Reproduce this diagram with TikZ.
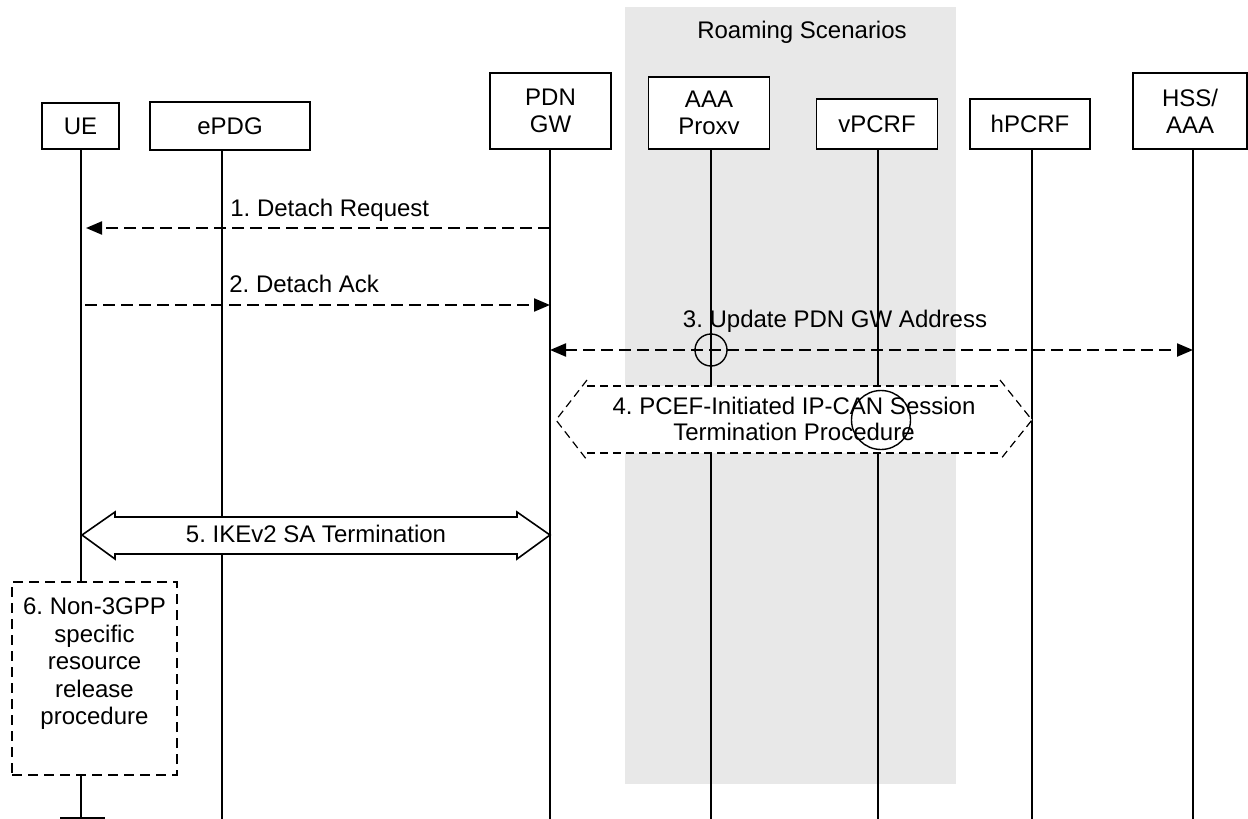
\documentclass[tikz,border=0pt]{standalone}
\usepackage{fontspec}
\setmainfont{Liberation Sans}
\usetikzlibrary{arrows.meta}
\definecolor{roam}{HTML}{E8E8E8}
\frenchspacing
\begin{document}
\begin{tikzpicture}[x=0.5pt,y=-0.5pt,
  font=\fontsize{12}{13.5}\selectfont,
  >={Triangle[length=8pt,width=6.5pt]},
  entity/.style={draw, fill=white, line width=0.8pt, inner sep=0pt, align=center},
  life/.style={line width=0.6pt},
  msg/.style={line width=1.1pt, dash pattern=on 6pt off 3pt},
  lbl/.style={anchor=base west, inner sep=0pt},
  hop/.style={draw, circle, line width=0.7pt, inner sep=0pt},
  procline/.style={line width=0.6pt, dash pattern=on 4pt off 2.5pt},
]
\useasboundingbox (0,0) rectangle (1248,819);
% roaming area
\fill[roam] (625,7) rectangle (956,784);
\node (roamlbl) at (802,32) {Roaming Scenarios};

% entities
\node[entity, minimum width=38.5pt, minimum height=23pt] (ue) at (80.5,126) {UE};
\node[entity, minimum width=80pt, minimum height=24pt] (epdg) at (230,126) {ePDG};
\node[entity, minimum width=60.5pt, minimum height=38pt] (pdn) at (550.5,111) {PDN\\GW};
\node[entity, minimum width=60.5pt, minimum height=36pt] (aaa) at (709,113) {AAA\\Proxv};
\node[entity, minimum width=60.5pt, minimum height=25pt] (vpcrf) at (877,124) {vPCRF};
\node[entity, minimum width=60pt, minimum height=25pt] (hpcrf) at (1030,124) {hPCRF};
\node[entity, minimum width=57pt, minimum height=38pt] (hss) at (1190,111) {HSS/\\AAA};

% lifeline x positions and message rows
\coordinate (xue) at (81,0);
\coordinate (xepdg) at (222,0);
\coordinate (xpdn) at (550,0);
\coordinate (xaaa) at (711,0);
\coordinate (xvpcrf) at (878,0);
\coordinate (xhpcrf) at (1032,0);
\coordinate (xhss) at (1193,0);
\coordinate (bottom) at (0,819);
\coordinate (y1) at (0,228);
\coordinate (y2) at (0,305);
\coordinate (y3) at (0,350);

% box 6 (placed first so lifeline can refer to it)
\node[draw, line width=0.9pt, dash pattern=on 5pt off 3pt, fill=white,
      minimum width=82.5pt, minimum height=96.5pt, inner sep=0pt] (box6) at (94.5,678.5) {};

% lifelines
\draw[life] (xue |- ue.south) -- (xue |- box6.north);
\coordinate (ueend) at (81,818);
\draw[life] (xue |- box6.south) -- (ueend);
\coordinate (tl) at (60,818);
\coordinate (tr) at (105,818);
\draw[life] (tl) -- (tr);
\draw[life] (xepdg |- epdg.south) -- (xepdg |- bottom);
\draw[life] (xpdn |- pdn.south) -- (xpdn |- bottom);
\draw[life] (xaaa |- aaa.south) -- (xaaa |- bottom);
\draw[life] (xvpcrf |- vpcrf.south) -- (xvpcrf |- bottom);
\draw[life] (xhpcrf |- hpcrf.south) -- (xhpcrf |- bottom);
\draw[life] (xhss |- hss.south) -- (xhss |- bottom);

% redraw box 6 on top
\node[draw, line width=0.9pt, dash pattern=on 5pt off 3pt, fill=white,
      minimum width=82.5pt, minimum height=96.5pt, inner sep=0pt] at (box6.center) {};
\node[align=center, inner sep=0pt, font=\fontsize{12}{13.75}\selectfont] (t6) at (94.5,664)
  {6. Non-3GPP\\specific\\resource\\release\\procedure};

% messages 1-3
\draw[msg, ->, shorten >=2.5pt] (xpdn |- y1) -- (xue |- y1);
\node[lbl] (l1) at (230,216) {1. Detach Request};
\draw[msg, ->, shorten <=2pt] (xue |- y2) -- (xpdn |- y2);
\node[lbl] (l2) at (229,292) {2. Detach Ack};
\draw[msg, <->] (xpdn |- y3) -- (xhss |- y3);
\node[anchor=base, inner sep=0pt] (l3) at (835,327) {3. Update PDN GW Address};
\node[hop, minimum size=16pt] (hop1) at (711,350) {};

% 4. procedure hexagon
\fill[white] (587,386) -- (1000,386) -- (1032,420) -- (1000,453) -- (587,453) -- (556,420) -- cycle;
\draw[procline] (587,386) -- (1000,386);
\draw[procline] (587,453) -- (1000,453);
\draw[procline] (587,380) -- (556,420) -- (587,460);
\draw[procline] (1000,380) -- (1032,420) -- (1000,460);
\node[align=center, inner sep=0pt, font=\fontsize{12}{13}\selectfont] (l4) at (794,419)
  {4. PCEF-Initiated IP-CAN Session\\Termination Procedure};
\node[hop, minimum size=29.5pt] (hop2) at (881,420) {};

% 5. IKEv2 SA termination double arrow
\filldraw[fill=white, line width=0.8pt, line join=miter]
  (82,535) -- (115,512) -- (115,517) -- (517,517) -- (517,512) -- (550,535)
  -- (517,559) -- (517,554) -- (115,554) -- (115,559) -- cycle;
\node[inner sep=0pt] (l5) at (316,534) {5. IKEv2 SA Termination};
\end{tikzpicture}
\end{document}
